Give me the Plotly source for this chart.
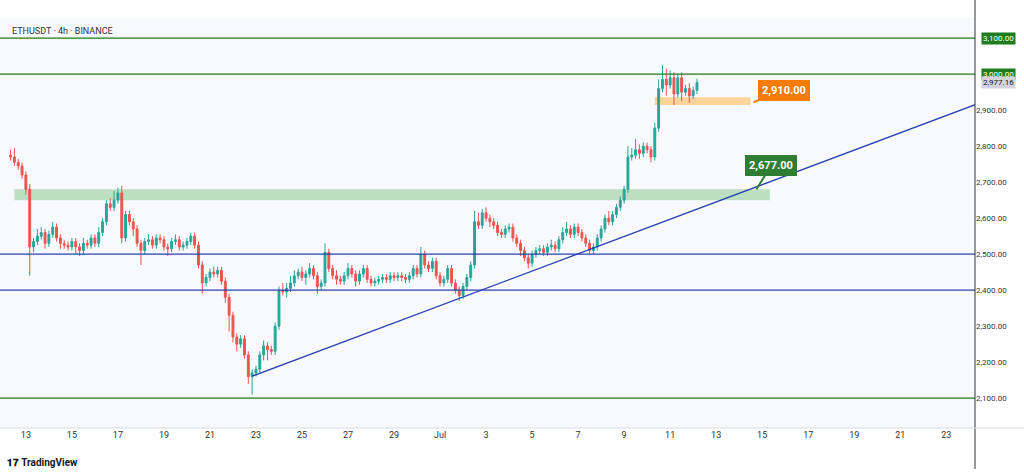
import pandas as pd
import plotly.graph_objects as go

# 4h closes, Jun 12 08:00 -> Jul 12 04:00
closes = [
    2770, 2755, 2745, 2720,
    2680, 2520, 2535, 2550, 2560, 2530,
    2555, 2575, 2545, 2530, 2525, 2520,
    2535, 2520, 2510, 2530, 2525, 2545,
    2530, 2560, 2590, 2640, 2630, 2650,
    2670, 2545, 2610, 2590, 2570, 2530,
    2510, 2535, 2540, 2525, 2545, 2540,
    2520, 2515, 2535, 2540, 2520, 2525,
    2535, 2550, 2525, 2470, 2420, 2435,
    2450, 2445, 2455, 2425, 2380, 2330,
    2270, 2250, 2265, 2220, 2160, 2170,
    2180, 2220, 2245, 2235, 2230, 2300,
    2400, 2395, 2405, 2420, 2440, 2450,
    2435, 2445, 2460, 2440, 2410, 2420,
    2505, 2460, 2440, 2430, 2425, 2440,
    2460, 2445, 2425, 2445, 2460, 2430,
    2420, 2425, 2430, 2435, 2430, 2440,
    2435, 2440, 2435, 2430, 2440, 2460,
    2445, 2500, 2470, 2460, 2480, 2440,
    2420, 2430, 2460, 2420, 2400, 2385,
    2410, 2435, 2470, 2590, 2580, 2615,
    2600, 2590, 2580, 2560, 2555, 2570,
    2575, 2545, 2530, 2510, 2490, 2475,
    2500, 2510, 2515, 2505, 2520, 2525,
    2515, 2540, 2560, 2570, 2555, 2575,
    2560, 2545, 2530, 2510, 2520, 2545,
    2570, 2600, 2590, 2610, 2630, 2650,
    2680, 2770, 2775, 2790, 2780, 2800,
    2790, 2770, 2850, 2960, 2985, 2970,
    2990, 2945, 2990, 2950, 2960, 2940,
    2955, 2977.16,
]
# wick sizes above / below the body
wick_up = [
    15, 25, 10, 10,
    10, 15, 10, 20, 15, 10,
    10, 15, 10, 10, 10, 10,
    10, 10, 10, 15, 10, 10,
    10, 15, 10, 10, 15, 25,
    15, 20, 10, 10, 10, 10,
    10, 10, 15, 10, 10, 10,
    10, 10, 10, 15, 10, 10,
    10, 10, 10, 10, 10, 10,
    10, 15, 10, 10, 10, 10,
    10, 10, 10, 10, 10, 10,
    10, 10, 15, 10, 10, 10,
    10, 20, 15, 20, 15, 10,
    15, 10, 15, 10, 10, 10,
    25, 10, 10, 15, 10, 10,
    15, 10, 10, 10, 10, 10,
    10, 10, 10, 10, 10, 10,
    10, 10, 10, 10, 10, 10,
    10, 20, 10, 10, 10, 10,
    10, 10, 10, 10, 10, 10,
    10, 10, 10, 30, 25, 10,
    15, 10, 10, 10, 10, 10,
    10, 10, 10, 10, 10, 10,
    10, 10, 10, 10, 10, 15,
    10, 10, 15, 20, 10, 10,
    10, 10, 10, 10, 10, 10,
    10, 10, 20, 10, 10, 10,
    10, 30, 20, 30, 15, 10,
    10, 10, 15, 25, 40, 30,
    20, 15, 10, 15, 10, 15,
    10, 10,
]
wick_dn = [
    10, 10, 10, 10,
    15, 80, 15, 10, 10, 15,
    10, 10, 10, 15, 10, 10,
    10, 20, 15, 10, 10, 10,
    10, 10, 10, 10, 10, 10,
    10, 15, 10, 10, 20, 10,
    40, 10, 10, 10, 10, 10,
    10, 20, 10, 10, 10, 10,
    10, 10, 10, 10, 30, 10,
    10, 10, 10, 10, 15, 45,
    15, 20, 10, 10, 20, 50,
    10, 10, 15, 30, 10, 10,
    10, 10, 15, 10, 10, 10,
    10, 20, 10, 10, 20, 10,
    10, 10, 10, 15, 10, 10,
    10, 10, 15, 10, 10, 10,
    10, 10, 10, 10, 10, 10,
    10, 10, 10, 10, 10, 10,
    10, 10, 10, 10, 10, 10,
    10, 10, 10, 10, 10, 15,
    10, 10, 10, 10, 10, 10,
    10, 15, 10, 10, 10, 10,
    10, 10, 10, 15, 10, 15,
    10, 10, 10, 10, 10, 10,
    10, 10, 10, 10, 10, 10,
    10, 10, 10, 10, 10, 10,
    10, 10, 10, 10, 10, 10,
    10, 10, 10, 10, 15, 10,
    10, 15, 10, 10, 10, 30,
    10, 30, 10, 25, 10, 20,
    10, 10,
]
start_open = 2775

green_zone = (2650, 2680)
orange_zone = (2914, 2936)
level_green = [3100, 3000, 2100]
level_blue = [2500, 2400]
trend = [("2025-06-22 20:00", 2161), ("2025-07-24 10:00", 2919)]
tick_days = ["2025-06-13", "2025-06-15", "2025-06-17", "2025-06-19", "2025-06-21", "2025-06-23",
             "2025-06-25", "2025-06-27", "2025-06-29", "2025-07-01", "2025-07-03", "2025-07-05",
             "2025-07-07", "2025-07-09", "2025-07-11", "2025-07-13", "2025-07-15", "2025-07-17",
             "2025-07-19", "2025-07-21", "2025-07-23"]
tick_text = ["13", "15", "17", "19", "21", "23", "25", "27", "29", "Jul", "3", "5", "7", "9",
             "11", "13", "15", "17", "19", "21", "23"]

times = pd.date_range("2025-06-12 08:00", periods=len(closes), freq="4h")
opens = [start_open] + closes[:-1]
highs = [max(o, c) + u for o, c, u in zip(opens, closes, wick_up)]
lows = [min(o, c) - d for o, c, d in zip(opens, closes, wick_dn)]

GREEN = "#26a69a"
RED = "#ef5350"
DKGREEN = "#1e7b1e"
BLUE = "#2a3fb0"

fig = go.Figure(go.Candlestick(
    x=times, open=opens, high=highs, low=lows, close=closes,
    increasing=dict(line=dict(color=GREEN, width=1), fillcolor=GREEN),
    decreasing=dict(line=dict(color=RED, width=1), fillcolor=RED),
    whiskerwidth=0, showlegend=False,
))

x0, x1 = pd.Timestamp("2025-06-11 21:00"), pd.Timestamp("2025-07-24 06:00")

shapes = []
for lv in level_green:
    shapes.append(dict(type="line", xref="paper", x0=0, x1=1, y0=lv, y1=lv,
                       line=dict(color=DKGREEN, width=1.3)))
for lv in level_blue:
    shapes.append(dict(type="line", xref="paper", x0=0, x1=1, y0=lv, y1=lv,
                       line=dict(color=BLUE, width=1.3)))
shapes.append(dict(type="rect", x0="2025-06-12 12:00", x1="2025-07-15 08:00",
                   y0=green_zone[0], y1=green_zone[1], fillcolor="rgba(76,175,80,0.35)",
                   line=dict(width=0), layer="below"))
shapes.append(dict(type="rect", x0="2025-07-10 08:00", x1="2025-07-14 12:00",
                   y0=orange_zone[0], y1=orange_zone[1], fillcolor="rgba(255,183,77,0.55)",
                   line=dict(width=0), layer="below"))
shapes.append(dict(type="line", x0=trend[0][0], y0=trend[0][1], x1=trend[1][0], y1=trend[1][1],
                   line=dict(color=BLUE, width=1.3)))
shapes.append(dict(type="line", xref="paper", yref="paper", x0=1, x1=1, y0=-0.1, y1=1.05,
                   line=dict(color="#333", width=1)))
shapes.append(dict(type="line", xref="paper", yref="paper", x0=-0.01, x1=1.06, y0=0, y1=0,
                   line=dict(color="#d9dbe0", width=1)))

ann = [
    dict(x=0.01, y=0.985, xref="paper", yref="paper", text="ETHUSDT · 4h · BINANCE",
         showarrow=False, xanchor="left", yanchor="top", font=dict(size=9, color="#333")),
    dict(x="2025-07-14 15:00", y=2922, text="<b>2,910.00</b>", showarrow=True, ax=30, ay=-12,
         arrowcolor="#f57c00", arrowwidth=2, arrowhead=0, bgcolor="#f57c00",
         bordercolor="#f57c00", borderpad=3, font=dict(color="white", size=11)),
    dict(x="2025-07-14 18:00", y=2680, text="<b>2,677.00</b>", showarrow=True, ax=15, ay=-24,
         arrowcolor="#2e7d32", arrowwidth=2, arrowhead=0, bgcolor="#2e7d32",
         bordercolor="#2e7d32", borderpad=3, font=dict(color="white", size=11)),
    dict(x=0.005, y=-0.065, xref="paper", yref="paper", yanchor="top", xanchor="left",
         text="<b>𝟏𝟕 TradingView</b>", showarrow=False, font=dict(size=10, color="#131722")),
]
for lv, bg in [(3100, DKGREEN), (3000, DKGREEN), (2977.16, "#d1d4dc")]:
    ann.append(dict(x=1.006, y=lv, xref="paper", yref="y", xanchor="left",
                    text=f"{lv:,.2f}", showarrow=False, bgcolor=bg, borderpad=1,
                    font=dict(size=8, color="white" if bg == DKGREEN else "#131722")))

fig.update_layout(
    width=1024, height=472,
    paper_bgcolor="white", plot_bgcolor="#f8f9fd",
    margin=dict(l=0, r=49, t=18, b=44),
    font=dict(family="Roboto, Arial", size=9, color="#333"),
    shapes=shapes, annotations=ann,
    xaxis=dict(range=[x0, x1], rangeslider=dict(visible=False), showgrid=False,
               tickvals=tick_days, ticktext=tick_text, ticks="", zeroline=False,
               tickfont=dict(size=9, color="#333")),
    yaxis=dict(range=[2017, 3156], side="right", showgrid=False, zeroline=False,
               tickvals=[2100, 2200, 2300, 2400, 2500, 2600, 2700, 2800, 2900],
               tickformat=",.2f", ticks="", tickfont=dict(size=8, color="#333")),
)

fig.write_html("out.html", config={"displayModeBar": False})

# drop the default 8px body margin so the figure sits flush in the window
with open("out.html", "r", encoding="utf-8") as f:
    html = f.read()
html = html.replace("<body>", '<body style="margin:0">', 1)
with open("out.html", "w", encoding="utf-8") as f:
    f.write(html)
